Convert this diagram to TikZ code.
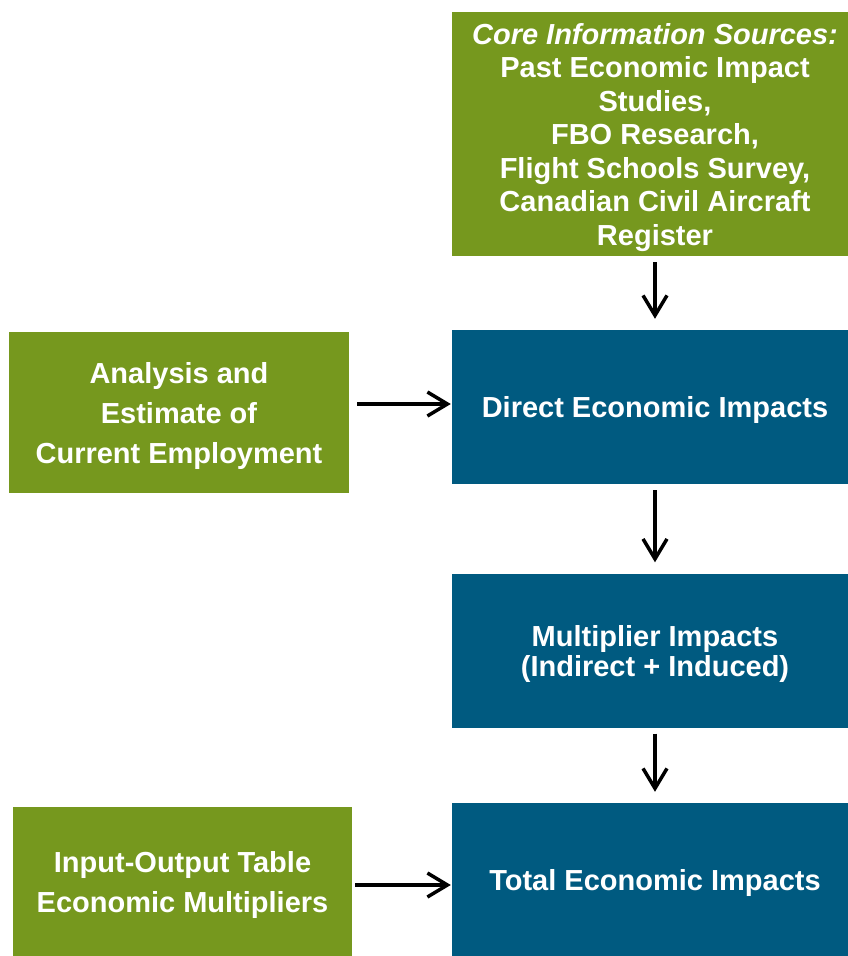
\documentclass[tikz,border=0pt]{standalone}
\usepackage{fontspec}
\setmainfont{Liberation Sans}
\usetikzlibrary{arrows.meta}
\definecolor{boxgreen}{HTML}{76981E}
\definecolor{boxblue}{HTML}{005A80}
\tikzstyle{box}=[rectangle,draw=none,text=white,align=center,inner sep=0pt,text depth=0pt,font=\bfseries\fontsize{29}{33.5}\selectfont]
\tikzstyle{greenbox}=[box,fill=boxgreen]
\tikzstyle{bluebox}=[box,fill=boxblue,minimum width=406pt,minimum height=154pt]
\tikzstyle{flow}=[draw,line width=3.5pt,-{Straight Barb[length=20pt,width=24pt]}]

\begin{document}
\begin{tikzpicture}[x=1pt,y=-1pt]
      \useasboundingbox (0,0) rectangle (847,956);
      % right column
      \node[greenbox,minimum width=406pt,minimum height=244pt] (core) at (655,134)
        {\textit{Core Information Sources:}\\Past Economic Impact\\Studies,\\FBO Research,\\Flight Schools Survey,\\Canadian Civil Aircraft\\Register};
      \node[bluebox] (direct) at (655,407) {Direct Economic Impacts};
      \node[bluebox,font=\bfseries\fontsize{29}{30}\selectfont] (mult) at (655,650.5) {Multiplier Impacts\\(Indirect + Induced)};
      \node[bluebox] (total) at (655,880) {Total Economic Impacts};
      % left column
      \node[greenbox,minimum width=340pt,minimum height=161pt,font=\bfseries\fontsize{29}{40}\selectfont] (analysis) at (179,412.5)
        {Analysis and\\Estimate of\\Current Employment};
      \node[greenbox,minimum width=339pt,minimum height=151pt,font=\bfseries\fontsize{29}{40}\selectfont] (io) at (182.5,882)
        {Input-Output Table\\Economic Multipliers};

      \foreach \from/\to in {core/direct,direct/mult,mult/total}{
        \path[flow,shorten <=6pt,shorten >=11pt] (\from) -- (\to);
      }
      \path[flow,shorten <=8pt,shorten >=1pt] (analysis.east |- 0,404) -- (direct.west |- 0,404);
      \path[flow,shorten <=3pt,shorten >=1pt] (io.east |- 0,885) -- (total.west |- 0,885);

    \end{tikzpicture}
\end{document}
